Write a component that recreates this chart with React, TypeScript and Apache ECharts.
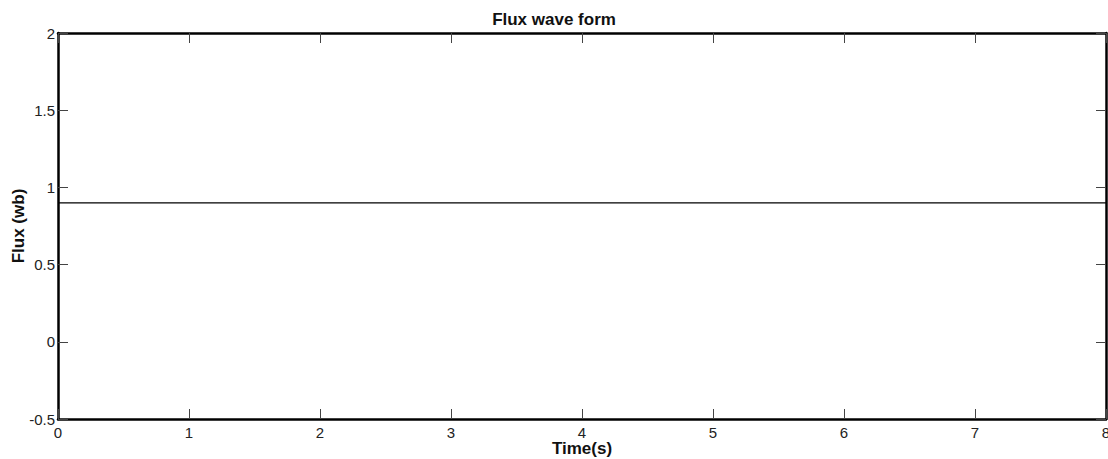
import React, { useEffect, useRef } from "react";
import * as echarts from "echarts";

const timeValues: number[] = [0, 8];
const fluxValues: number[] = [0.9, 0.9];
const xTicks: number[] = [0, 1, 2, 3, 4, 5, 6, 7, 8];
const yTickLabels: string[] = ["-0.5", "0", "0.5", "1", "1.5", "2"];

export default function App() {
  const ref = useRef<HTMLDivElement>(null);
  useEffect(() => {
    document.body.style.margin = "0";
    if (!ref.current) return;
    const chart = echarts.init(ref.current, null, { renderer: "svg" });
    const font = "'Liberation Sans', Arial, sans-serif";
    const tickStyle = { show: true, inside: true, length: 10, lineStyle: { color: "#444", width: 1 } };
    const lineStyle = { show: true, onZero: false, lineStyle: { color: "#000", width: 2.5 } };
    chart.setOption({
      animation: false,
      backgroundColor: "#fff",
      title: {
        text: "Flux wave form",
        left: "center",
        top: 6,
        textStyle: { fontFamily: font, fontSize: 17, fontWeight: "bold", color: "#111" },
      },
      grid: { left: 58, right: 2, top: 33, bottom: 40, containLabel: false, outerBoundsMode: "none" },
      xAxis: [
        {
          type: "value",
          min: 0,
          max: 8,
          interval: 1,
          position: "bottom",
          name: "Time(s)",
          nameLocation: "middle",
          nameGap: 21,
          nameMoveOverlap: false,
          nameTextStyle: { fontFamily: font, fontSize: 17, fontWeight: "bold", color: "#111", lineHeight: 17 },
          axisLine: lineStyle,
          axisTick: tickStyle,
          splitLine: { show: false },
          axisLabel: {
            fontFamily: font,
            fontSize: 15,
            color: "#222",
            margin: 6,
            lineHeight: 15,
            formatter: (v: number) => (xTicks.includes(v) ? String(v) : ""),
          },
        },
        {
          type: "value",
          min: 0,
          max: 8,
          interval: 1,
          position: "top",
          axisLine: lineStyle,
          axisTick: tickStyle,
          splitLine: { show: false },
          axisLabel: { show: false },
        },
      ],
      yAxis: [
        {
          type: "value",
          min: -0.5,
          max: 2,
          interval: 0.5,
          position: "left",
          name: "Flux (wb)",
          nameLocation: "middle",
          nameGap: 31,
          nameMoveOverlap: false,
          nameTextStyle: { fontFamily: font, fontSize: 17, fontWeight: "bold", color: "#111" },
          axisLine: lineStyle,
          axisTick: tickStyle,
          splitLine: { show: false },
          axisLabel: {
            fontFamily: font,
            fontSize: 15,
            color: "#222",
            margin: 3,
            formatter: (v: number) => {
              const s = String(v);
              return yTickLabels.includes(s) ? s : "";
            },
          },
        },
        {
          type: "value",
          min: -0.5,
          max: 2,
          interval: 0.5,
          position: "right",
          axisLine: lineStyle,
          axisTick: tickStyle,
          splitLine: { show: false },
          axisLabel: { show: false },
        },
      ],
      series: [
        {
          type: "line",
          xAxisIndex: 0,
          yAxisIndex: 0,
          data: timeValues.map((t, i) => [t, fluxValues[i]]),
          showSymbol: false,
          lineStyle: { color: "#000", width: 1.2 },
        },
      ],
    });
    return () => chart.dispose();
  }, []);
  return <div ref={ref} style={{ width: 1108, height: 459 }} />;
}
